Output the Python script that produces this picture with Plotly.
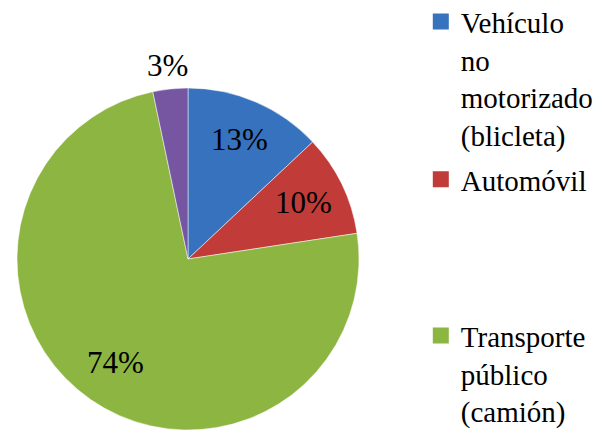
import math
import plotly.graph_objects as go

# Datos del gráfico (porcentajes)
categorias = ["Vehículo no motorizado (blicleta)", "Automóvil", "Transporte público (camión)", "Otro"]
valores = [13.0, 9.6, 74.1, 3.3]
colores = ["#3772BE", "#C13B39", "#8DB542", "#7756A1"]
leyenda_textos = [
    "Vehículo<br>no<br>motorizado<br>(blicleta)",
    "Automóvil",
    "Transporte<br>público<br>(camión)",
]

FUENTE = "Liberation Serif, Times New Roman, serif"

# Tamaño de la figura y posición del pastel (en píxeles)
ANCHO, ALTO = 600, 422
CX, CY, RADIO = 180, 251, 171
# Distancia de cada etiqueta al centro, como fracción del radio
RADIO_ETIQUETA = [0.76, 0.75, 0.74, 1.14]

fig = go.Figure()

fig.add_trace(go.Pie(
    labels=categorias,
    values=valores,
    sort=False,
    direction="clockwise",
    rotation=0,
    marker=dict(colors=colores, line=dict(color="white", width=0.5)),
    textinfo="none",
    domain=dict(
        x=[(CX - RADIO) / ANCHO, (CX + RADIO) / ANCHO],
        y=[1 - (CY + RADIO) / ALTO, 1 - (CY - RADIO) / ALTO],
    ),
    showlegend=False,
))

# Etiquetas de porcentaje, al estilo de Excel (a una fracción fija del radio)
total = sum(valores)
acumulado = 0
for v, fr in zip(valores, RADIO_ETIQUETA):
    angulo = math.radians(360 * (acumulado + v / 2) / total)
    acumulado += v
    px_x = CX + fr * RADIO * math.sin(angulo)
    px_y = CY - fr * RADIO * math.cos(angulo)
    fig.add_annotation(
        x=px_x / ANCHO, y=1 - px_y / ALTO,
        xref="paper", yref="paper",
        text=f"{v / total:.0%}",
        showarrow=False,
        xanchor="center", yanchor="middle",
        font=dict(family=FUENTE, size=31, color="black"),
    )

# Leyenda: cada entrada en su propia leyenda para ubicarla por separado
leyendas = ["legend", "legend2", "legend3"]
for texto, color, ley in zip(leyenda_textos, colores, leyendas):
    fig.add_trace(go.Scatter(
        x=[None], y=[None],
        mode="markers",
        marker=dict(symbol="square", size=16, color=color),
        name=texto,
        legend=ley,
        showlegend=True,
    ))

estilo_leyenda = dict(
    x=0.688, xanchor="left", yanchor="top",
    font=dict(family=FUENTE, size=29, color="black"),
    valign="top",
    bgcolor="rgba(0,0,0,0)",
    itemwidth=30,
)

fig.update_layout(
    width=ANCHO,
    height=ALTO,
    margin=dict(l=0, r=0, t=0, b=0, autoexpand=False),
    paper_bgcolor="white",
    plot_bgcolor="white",
    xaxis=dict(visible=False),
    yaxis=dict(visible=False),
    legend=dict(y=1.028, **estilo_leyenda),
    legend2=dict(y=0.654, **estilo_leyenda),
    legend3=dict(y=0.284, **estilo_leyenda),
)

fig.write_html("out.html")
